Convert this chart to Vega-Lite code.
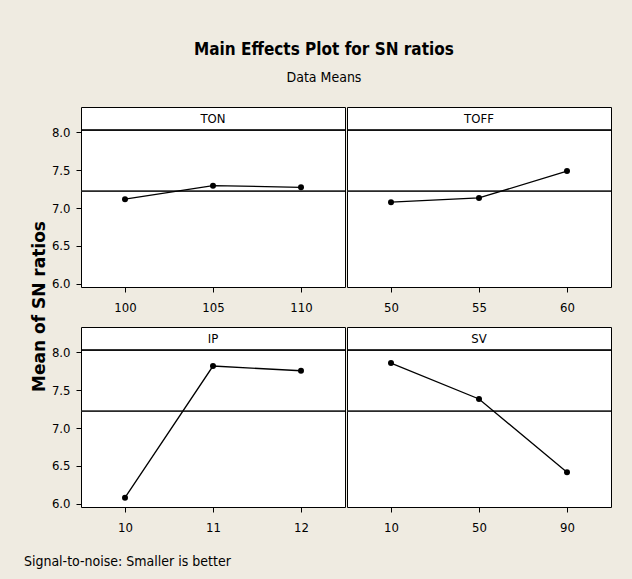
{
  "$schema": "https://vega.github.io/schema/vega-lite/v6.json",
  "background": "#efebe1",
  "padding": {"left": 23, "top": 40, "right": 23, "bottom": 15},
  "title": {
    "text": "Main Effects Plot for SN ratios",
    "subtitle": "Data Means",
    "font": "DejaVu Sans Condensed, Liberation Sans, sans-serif",
    "fontSize": 17,
    "fontWeight": "bold",
    "color": "black",
    "subtitleFont": "DejaVu Sans Condensed, Liberation Sans, sans-serif",
    "subtitleFontSize": 14,
    "subtitleColor": "black",
    "subtitlePadding": 12,
    "anchor": "middle",
    "dx": 6,
    "offset": 21
  },
  "data": {
    "values": [
      {"factor": "TON", "level": "100", "mean": 7.116},
      {"factor": "TON", "level": "105", "mean": 7.294},
      {"factor": "TON", "level": "110", "mean": 7.273},
      {"factor": "TOFF", "level": "50", "mean": 7.077},
      {"factor": "TOFF", "level": "55", "mean": 7.133},
      {"factor": "TOFF", "level": "60", "mean": 7.486},
      {"factor": "IP", "level": "10", "mean": 6.083},
      {"factor": "IP", "level": "11", "mean": 7.816},
      {"factor": "IP", "level": "12", "mean": 7.754},
      {"factor": "SV", "level": "10", "mean": 7.855},
      {"factor": "SV", "level": "50", "mean": 7.382},
      {"factor": "SV", "level": "90", "mean": 6.417}
    ]
  },
  "vconcat": [
    {
      "title": {
        "text": "Signal-to-noise: Smaller is better",
        "orient": "bottom",
        "anchor": "start",
        "dx": -7,
        "offset": 20,
        "font": "DejaVu Sans Condensed, Liberation Sans, sans-serif",
        "fontSize": 14,
        "fontWeight": "normal",
        "color": "black"
      },
      "vconcat": [
        {
          "title": {
            "text": "Mean of SN ratios",
            "orient": "left",
            "anchor": "middle",
            "font": "DejaVu Sans",
            "fontSize": 17,
            "fontWeight": "bold",
            "color": "black",
            "offset": 2,
            "dx": 14
          },
          "spacing": 11,
          "vconcat": [
            {
              "spacing": 0,
              "hconcat": [
                {
                  "transform": [{"filter": {"field": "factor", "equal": "TON"}}],
                  "width": 264, "height": 180,
                  "layer": [
                    {"mark": {"type": "rule", "color": "black", "strokeWidth": 1},
                     "encoding": {"y": {"datum": 8.026, "type": "quantitative", "scale": {"domain": [5.96, 8.33], "nice": false, "zero": false}, "axis": {"values": [6, 6.5, 7, 7.5, 8], "format": ".1f", "title": null}}}},
                    {"mark": {"type": "rule", "color": "#222222", "strokeWidth": 1},
                     "encoding": {"y": {"datum": 7.222, "type": "quantitative", "axis": {"values": [6, 6.5, 7, 7.5, 8], "format": ".1f", "title": null}}}},
                    {"mark": {"type": "line", "color": "black", "strokeWidth": 1.3},
                     "encoding": {"x": {"field": "level", "type": "ordinal", "scale": {"type": "point", "padding": 0.5}, "axis": {"labelAngle": 0, "title": null}},
                                  "y": {"field": "mean", "type": "quantitative", "axis": {"values": [6, 6.5, 7, 7.5, 8], "format": ".1f", "title": null}}}},
                    {"mark": {"type": "point", "filled": true, "color": "black", "size": 36, "opacity": 1},
                     "encoding": {"x": {"field": "level", "type": "ordinal", "axis": {"labelAngle": 0, "title": null}},
                                  "y": {"field": "mean", "type": "quantitative", "axis": {"values": [6, 6.5, 7, 7.5, 8], "format": ".1f", "title": null}}}},
                    {"transform": [{"aggregate": [{"op": "count", "as": "n"}], "groupby": ["factor"]}],
                     "mark": {"type": "text", "fontSize": 13, "color": "black", "baseline": "middle", "align": "center"},
                     "encoding": {"y": {"datum": 8.176, "type": "quantitative", "axis": {"values": [6, 6.5, 7, 7.5, 8], "format": ".1f", "title": null}}, "text": {"field": "factor"}}}
                  ]
                },
                {
                  "transform": [{"filter": {"field": "factor", "equal": "TOFF"}}],
                  "width": 264, "height": 180,
                  "layer": [
                    {"mark": {"type": "rule", "color": "black", "strokeWidth": 1},
                     "encoding": {"y": {"datum": 8.026, "type": "quantitative", "scale": {"domain": [5.96, 8.33], "nice": false, "zero": false}, "axis": null}}},
                    {"mark": {"type": "rule", "color": "#222222", "strokeWidth": 1},
                     "encoding": {"y": {"datum": 7.222, "type": "quantitative", "axis": null}}},
                    {"mark": {"type": "line", "color": "black", "strokeWidth": 1.3},
                     "encoding": {"x": {"field": "level", "type": "ordinal", "scale": {"type": "point", "padding": 0.5}, "axis": {"labelAngle": 0, "title": null}},
                                  "y": {"field": "mean", "type": "quantitative", "axis": null}}},
                    {"mark": {"type": "point", "filled": true, "color": "black", "size": 36, "opacity": 1},
                     "encoding": {"x": {"field": "level", "type": "ordinal", "axis": {"labelAngle": 0, "title": null}},
                                  "y": {"field": "mean", "type": "quantitative", "axis": null}}},
                    {"transform": [{"aggregate": [{"op": "count", "as": "n"}], "groupby": ["factor"]}],
                     "mark": {"type": "text", "fontSize": 13, "color": "black", "baseline": "middle", "align": "center"},
                     "encoding": {"y": {"datum": 8.176, "type": "quantitative", "axis": null}, "text": {"field": "factor"}}}
                  ]
                }
              ]
            },
            {
              "spacing": 0,
              "hconcat": [
                {
                  "transform": [{"filter": {"field": "factor", "equal": "IP"}}],
                  "width": 264, "height": 180,
                  "layer": [
                    {"mark": {"type": "rule", "color": "black", "strokeWidth": 1},
                     "encoding": {"y": {"datum": 8.026, "type": "quantitative", "scale": {"domain": [5.96, 8.33], "nice": false, "zero": false}, "axis": {"values": [6, 6.5, 7, 7.5, 8], "format": ".1f", "title": null}}}},
                    {"mark": {"type": "rule", "color": "#222222", "strokeWidth": 1},
                     "encoding": {"y": {"datum": 7.222, "type": "quantitative", "axis": {"values": [6, 6.5, 7, 7.5, 8], "format": ".1f", "title": null}}}},
                    {"mark": {"type": "line", "color": "black", "strokeWidth": 1.3},
                     "encoding": {"x": {"field": "level", "type": "ordinal", "scale": {"type": "point", "padding": 0.5}, "axis": {"labelAngle": 0, "title": null}},
                                  "y": {"field": "mean", "type": "quantitative", "axis": {"values": [6, 6.5, 7, 7.5, 8], "format": ".1f", "title": null}}}},
                    {"mark": {"type": "point", "filled": true, "color": "black", "size": 36, "opacity": 1},
                     "encoding": {"x": {"field": "level", "type": "ordinal", "axis": {"labelAngle": 0, "title": null}},
                                  "y": {"field": "mean", "type": "quantitative", "axis": {"values": [6, 6.5, 7, 7.5, 8], "format": ".1f", "title": null}}}},
                    {"transform": [{"aggregate": [{"op": "count", "as": "n"}], "groupby": ["factor"]}],
                     "mark": {"type": "text", "fontSize": 13, "color": "black", "baseline": "middle", "align": "center"},
                     "encoding": {"y": {"datum": 8.176, "type": "quantitative", "axis": {"values": [6, 6.5, 7, 7.5, 8], "format": ".1f", "title": null}}, "text": {"field": "factor"}}}
                  ]
                },
                {
                  "transform": [{"filter": {"field": "factor", "equal": "SV"}}],
                  "width": 264, "height": 180,
                  "layer": [
                    {"mark": {"type": "rule", "color": "black", "strokeWidth": 1},
                     "encoding": {"y": {"datum": 8.026, "type": "quantitative", "scale": {"domain": [5.96, 8.33], "nice": false, "zero": false}, "axis": null}}},
                    {"mark": {"type": "rule", "color": "#222222", "strokeWidth": 1},
                     "encoding": {"y": {"datum": 7.222, "type": "quantitative", "axis": null}}},
                    {"mark": {"type": "line", "color": "black", "strokeWidth": 1.3},
                     "encoding": {"x": {"field": "level", "type": "ordinal", "scale": {"type": "point", "padding": 0.5}, "axis": {"labelAngle": 0, "title": null}},
                                  "y": {"field": "mean", "type": "quantitative", "axis": null}}},
                    {"mark": {"type": "point", "filled": true, "color": "black", "size": 36, "opacity": 1},
                     "encoding": {"x": {"field": "level", "type": "ordinal", "axis": {"labelAngle": 0, "title": null}},
                                  "y": {"field": "mean", "type": "quantitative", "axis": null}}},
                    {"transform": [{"aggregate": [{"op": "count", "as": "n"}], "groupby": ["factor"]}],
                     "mark": {"type": "text", "fontSize": 13, "color": "black", "baseline": "middle", "align": "center"},
                     "encoding": {"y": {"datum": 8.176, "type": "quantitative", "axis": null}, "text": {"field": "factor"}}}
                  ]
                }
              ]
            }
          ]
        }
      ]
    }
  ],
  "config": {
    "font": "DejaVu Sans Condensed, Liberation Sans, sans-serif",
    "view": {"fill": "white", "stroke": "black", "strokeWidth": 1},
    "axis": {
      "labelFont": "DejaVu Sans Condensed, Liberation Sans, sans-serif",
      "labelFontSize": 13,
      "labelColor": "black",
      "tickColor": "black",
      "tickSize": 5,
      "domain": false,
      "grid": false
    },
    "axisX": {"labelPadding": 9},
    "axisY": {"labelPadding": 6}
  }
}
